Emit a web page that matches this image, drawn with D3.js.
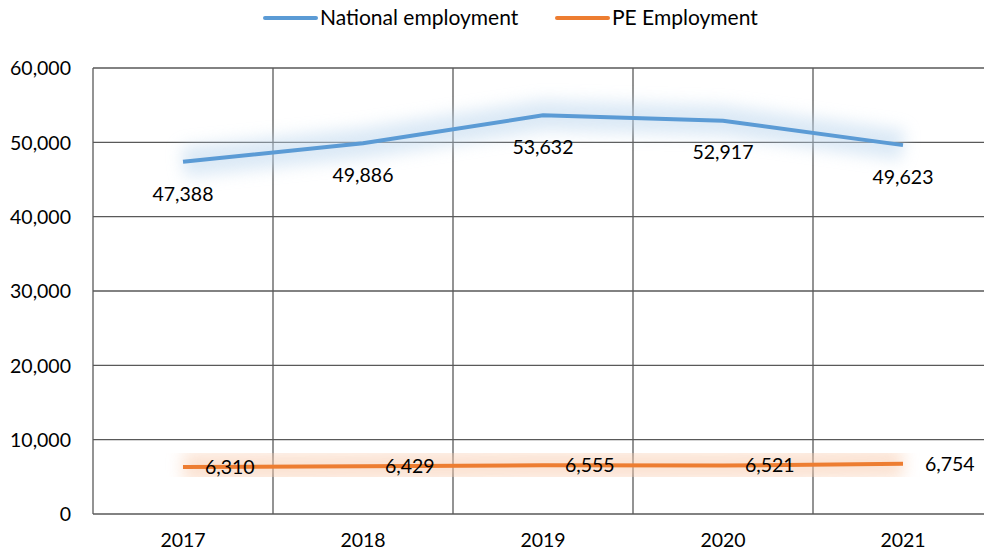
<!DOCTYPE html>
<html>
<head>
<meta charset="utf-8">
<script src="https://cdn.jsdelivr.net/npm/d3@7"></script>
<style>
  body { margin: 0; background: #fff; }
  svg text { font-family: Lato, "Open Sans", sans-serif; fill: #000; }
</style>
</head>
<body>
<div id="chart"></div>
<script>
// chart data
const years = ['2017', '2018', '2019', '2020', '2021'];
const nationalEmployment = [47388, 49886, 53632, 52917, 49623];
const peEmployment = [6310, 6429, 6555, 6521, 6754];
const yTicks = [0, 10000, 20000, 30000, 40000, 50000, 60000];
const seriesNames = ['National employment', 'PE Employment'];

const width = 984, height = 552;
const margin = {top: 68, right: -9, bottom: 38, left: 93};

const svg = d3.select('#chart')
    .append('svg')
    .attr('width', width)
    .attr('height', height);

const defs = svg.append('defs');
defs.append('filter')
    .attr('id', 'glow')
    .attr('x', '-20%').attr('y', '-300%')
    .attr('width', '140%').attr('height', '700%')
    .append('feGaussianBlur')
    .attr('stdDeviation', 8);

let x = d3.scaleBand()
    .domain(years)
    .range([margin.left, width - margin.right]);

let y = d3.scaleLinear()
    .domain([0, 60000])
    .range([height - margin.bottom, margin.top]);

const gridColor = '#595959';

// horizontal gridlines
svg.append('g')
    .selectAll('line')
    .data(yTicks)
    .enter()
    .append('line')
    .attr('x1', margin.left)
    .attr('x2', width)
    .attr('y1', d => y(d))
    .attr('y2', d => y(d))
    .attr('stroke', gridColor)
    .attr('stroke-width', 1.3);

// vertical gridlines at band edges
svg.append('g')
    .selectAll('line')
    .data(years)
    .enter()
    .append('line')
    .attr('x1', d => x(d))
    .attr('x2', d => x(d))
    .attr('y1', y(60000))
    .attr('y2', y(0))
    .attr('stroke', gridColor)
    .attr('stroke-width', 1.3);

// y axis labels
let y_axis = d3.axisLeft(y)
    .tickValues(yTicks)
    .tickSize(0)
    .tickPadding(22)
    .tickFormat(d3.format(','));

svg.append('g')
    .attr('transform', 'translate(' + margin.left + ',0)')
    .call(y_axis)
    .call(g => g.select('.domain').remove())
    .selectAll('text')
    .attr('font-size', '19.5px')
    .attr('dy', '0.35em');

// x axis labels
let x_axis = d3.axisBottom(x)
    .tickSize(0)
    .tickPadding(19);

svg.append('g')
    .attr('transform', 'translate(0,' + y(0) + ')')
    .call(x_axis)
    .call(g => g.select('.domain').remove())
    .selectAll('text')
    .attr('font-size', '19.5px');

const series = [
    {name: seriesNames[0], values: nationalEmployment, color: '#5B9BD5', glow: '#BDD7EE'},
    {name: seriesNames[1], values: peEmployment, color: '#ED7D31', glow: '#F8CBAD'}
];

let line = d3.line()
    .x((d, i) => x(years[i]) + x.bandwidth() / 2)
    .y(d => y(d));

series.forEach(s => {
    svg.append('path')
        .datum(s.values)
        .attr('d', line)
        .attr('fill', 'none')
        .attr('stroke', s.glow)
        .attr('stroke-width', 30)
        .attr('opacity', 0.55)
        .attr('filter', 'url(#glow)');
    svg.append('path')
        .datum(s.values)
        .attr('d', line)
        .attr('fill', 'none')
        .attr('stroke', s.color)
        .attr('stroke-width', 4);
});

// data labels
svg.append('g')
    .selectAll('text')
    .data(nationalEmployment)
    .enter()
    .append('text')
    .attr('x', (d, i) => x(years[i]) + x.bandwidth() / 2)
    .attr('y', d => y(d) + 32)
    .attr('dy', '0.35em')
    .attr('text-anchor', 'middle')
    .attr('font-size', '19.5px')
    .text(d => d3.format(',')(d));

svg.append('g')
    .selectAll('text')
    .data(peEmployment)
    .enter()
    .append('text')
    .attr('x', (d, i) => x(years[i]) + x.bandwidth() / 2 + 22)
    .attr('y', d => y(d))
    .attr('dy', '0.35em')
    .attr('text-anchor', 'start')
    .attr('font-size', '19.5px')
    .text(d => d3.format(',')(d));

// legend
const legendX = [265, 557];
const legend = svg.append('g');
series.forEach((s, i) => {
    legend.append('line')
        .attr('x1', legendX[i])
        .attr('x2', legendX[i] + 51)
        .attr('y1', 18)
        .attr('y2', 18)
        .attr('stroke', s.color)
        .attr('stroke-width', 4)
        .attr('stroke-linecap', 'round');
    legend.append('text')
        .attr('x', legendX[i] + 55)
        .attr('y', 18)
        .attr('dy', '0.35em')
        .attr('font-size', '21px')
        .text(s.name);
});
</script>
</body>
</html>
